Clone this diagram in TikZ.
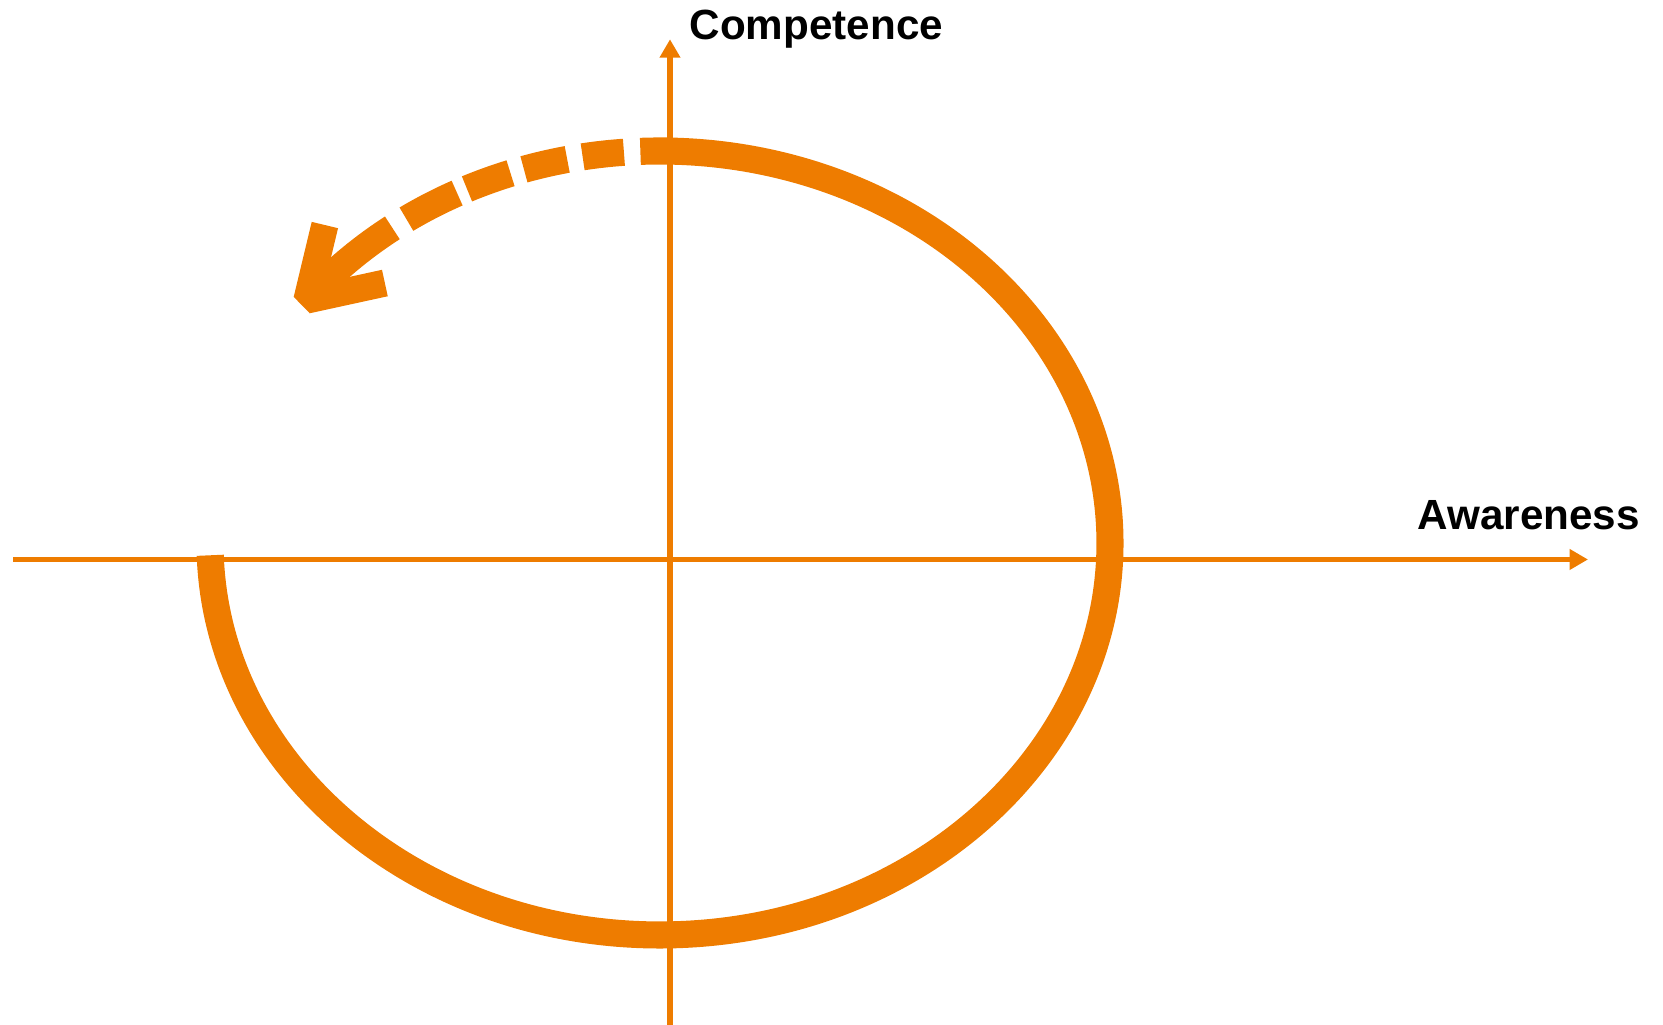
\documentclass[tikz,border=0pt]{standalone}
\usepackage{fontspec}
\setsansfont{Liberation Sans}
\usepackage{xcolor}
\usepackage{tikz}
\usetikzlibrary{arrows.meta,calc}
\definecolor{cycleorange}{RGB}{238,124,0}

\begin{document}
\begin{tikzpicture}[
    x=0.01cm, y=0.01cm,
    font=\fontsize{12}{14}\selectfont\sffamily\bfseries,
    axis/.style={cycleorange, line width=1.55pt, -{Triangle[length=5.2pt, width=5.6pt]}},
    ring/.style={cycleorange, line width=7.7pt, line cap=butt},
]
\useasboundingbox (0,0) rectangle (1663,1025);

% Centre of the cycle
\coordinate (c) at (660,482);

% Axes
\coordinate (xstart) at (13,465.5);
\coordinate (xend) at (1588,465.5);
\coordinate (ystart) at (670,0);
\coordinate (yend) at (670,985.7);
\draw[axis] (xstart) -- (xend);
\draw[axis] (ystart) -- (yend);

% Axis labels
\node[anchor=base west, inner sep=0] (comp) at (689,985.7) {Competence};
\node[anchor=base west, inner sep=0] (aware) at (1417,495) {Awareness};

% Solid part of the cycle
\draw[ring] (c) ++(181.8:450 and 392)
    arc[start angle=181.8, end angle=452.5, x radius=450, y radius=392];

% Dashed return
\foreach \a/\b in {94.6/99.9, 101.9/107.6, 109.4/115.4, 116.8/124.3} {
    \draw[ring] (c) ++(\a:450 and 392)
        arc[start angle=\a, end angle=\b, x radius=450, y radius=392];
}

% Arrow shaft and head
\draw[ring] (c) ++(126.5:450 and 392)
    arc[start angle=126.5, end angle=141.7, x radius=450, y radius=392] coordinate (tip);
\draw[ring, line join=bevel] (tip) ++(18,75) -- (tip) -- ++(78,17);

\end{tikzpicture}
\end{document}
